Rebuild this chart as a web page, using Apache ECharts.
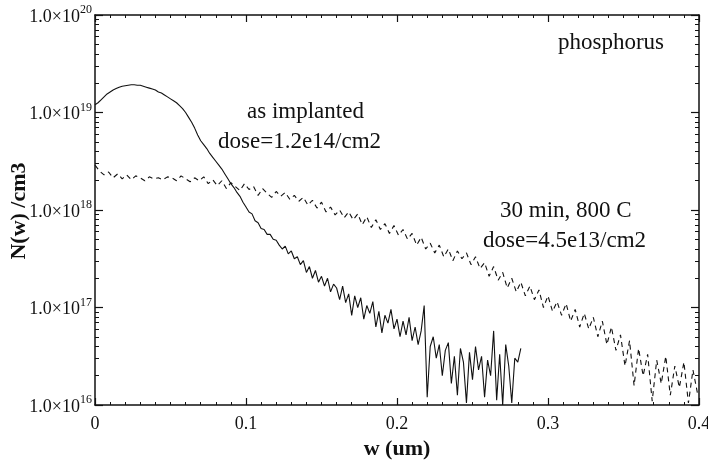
<!DOCTYPE html>
<html>
<head>
<meta charset="utf-8">
<script src="https://cdn.jsdelivr.net/npm/echarts@6/dist/echarts.min.js"></script>
<style>
  html, body { margin: 0; padding: 0; background: #fff; }
  #chart { width: 708px; height: 460px; }
</style>
</head>
<body>
<div id="chart"></div>
<script>
// depth sampling (um) and log10 of concentration
const implantedStep = 0.002
const implantedLogN = [
  19.08, 19.10, 19.13, 19.16, 19.19, 19.21, 19.23, 19.245, 19.26, 19.27, 19.275,
  19.28, 19.285, 19.285, 19.28, 19.28, 19.27, 19.26, 19.25, 19.24, 19.23, 19.21, 19.20, 19.18, 19.16, 19.14,
  19.12, 19.10, 19.07, 19.04, 19.00, 18.95, 18.90, 18.84, 18.77, 18.71,
  18.67, 18.63, 18.58, 18.54, 18.50, 18.46, 18.42, 18.37, 18.32, 18.27,
  18.23, 18.18, 18.14, 18.08, 18.03, 17.98, 17.96, 17.89, 17.87, 17.81,
  17.80, 17.75, 17.75, 17.70, 17.69,
  17.64, 17.60, 17.63, 17.55, 17.58, 17.50, 17.52, 17.44, 17.48, 17.36,
  17.42, 17.30, 17.38, 17.26, 17.32, 17.22, 17.30, 17.16, 17.24, 17.20,
  17.08, 17.22, 17.05, 17.14, 16.92, 17.12, 17.00, 17.10, 16.88, 17.02,
  16.94, 17.06, 16.80, 16.96, 16.74, 16.92, 16.84, 16.98, 16.78, 16.88,
  16.70, 16.86, 16.72, 16.90, 16.66, 16.80, 16.62, 16.76, 17.02, 16.08,
  16.60, 16.70, 16.48, 16.62, 16.30, 16.56, 16.64, 16.22, 16.50, 16.10,
  16.58, 16.44, 16.02, 16.54, 16.26, 16.60, 16.36, 16.50, 16.08, 16.46,
  16.30, 16.76, 16.05, 16.52, 16.00, 16.62, 16.40, 16.02, 16.48, 16.44, 16.58
]

const annealedStep = 0.003
const annealedLogN = [
  18.46, 18.40, 18.36, 18.39, 18.33, 18.37, 18.32, 18.36, 18.31, 18.35,
  18.33, 18.30, 18.34, 18.32, 18.33, 18.31, 18.34, 18.33, 18.30, 18.35,
  18.32, 18.29, 18.33, 18.30, 18.34, 18.27, 18.31, 18.25, 18.30, 18.22,
  18.28, 18.24, 18.20, 18.27, 18.21, 18.24, 18.15, 18.22, 18.17, 18.13,
  18.19, 18.14, 18.18, 18.11, 18.15, 18.09, 18.13, 18.05, 18.10, 18.02,
  18.08, 17.98, 18.03, 17.95, 18.00, 17.92, 17.98, 17.90, 17.96, 17.85,
  17.93, 17.82, 17.90, 17.80, 17.86, 17.76, 17.84, 17.74, 17.80, 17.70,
  17.76, 17.64, 17.72, 17.60, 17.66, 17.56, 17.64, 17.52, 17.60, 17.48,
  17.58, 17.50, 17.56, 17.44, 17.52, 17.40, 17.46, 17.32, 17.42, 17.28,
  17.36, 17.20, 17.30, 17.16, 17.26, 17.12, 17.22, 17.08, 17.18, 17.00,
  17.12, 16.96, 17.06, 16.92, 17.04, 16.86, 16.98, 16.80, 16.94, 16.78,
  16.90, 16.70, 16.86, 16.62, 16.80, 16.56, 16.72, 16.40, 16.66, 16.20,
  16.58, 16.30, 16.52, 16.04, 16.46, 16.22, 16.50, 16.10, 16.40, 16.18,
  16.44, 16.02, 16.36, 16.12
]

const xTicks = [0, 0.1, 0.2, 0.3, 0.4]
const xTickLabels = ['0', '0.1', '0.2', '0.3', '0.4']

const toPoints = (logs, step) => logs.map((v, i) => [+(i * step).toFixed(4), Math.pow(10, v)])

// minor ticks of a log axis, in decades (16..20)
const logMinor = []
for (let d = 16; d < 20; d++) {
  for (let k = 2; k <= 9; k++) logMinor.push(d + Math.log10(k))
}

const serif = '"Liberation Serif", "DejaVu Serif", serif'
const ink = '#111'

const chart = echarts.init(document.getElementById('chart'))

const baseX = {
  type: 'value', min: 0, max: 0.4, interval: 0.1,
  axisLine: { show: true, lineStyle: { color: ink, width: 1.5 } },
  axisTick: { inside: true, length: 7, lineStyle: { color: ink, width: 1.2 } },
  minorTick: { show: true, splitNumber: 10, length: 3, lineStyle: { color: ink, width: 1 } },
  splitLine: { show: false }
}

const option = {
  animation: false,
  backgroundColor: '#fff',
  grid: { left: 95, right: 9, top: 15, bottom: 55, outerBoundsMode: 'none', containLabel: false },
  xAxis: [
    Object.assign({}, baseX, {
      position: 'bottom',
      name: 'w (um)', nameLocation: 'middle', nameGap: 32,
      nameTextStyle: { fontFamily: serif, fontSize: 22, fontWeight: 'bold', color: ink },
      axisLabel: {
        margin: 10, fontFamily: serif, fontSize: 18, color: ink,
        formatter: v => {
          const i = xTicks.findIndex(t => Math.abs(t - v) < 1e-9)
          return i >= 0 ? xTickLabels[i] : ''
        }
      }
    }),
    Object.assign({}, baseX, { position: 'top', axisLabel: { show: false } })
  ],
  yAxis: [
    {
      type: 'log', min: 1e16, max: 1e20, logBase: 10, position: 'left',
      axisLine: { show: true, lineStyle: { color: ink, width: 1.5 } },
      axisTick: { inside: true, length: 8, lineStyle: { color: ink, width: 1.2 } },
      splitLine: { show: false },
      axisLabel: {
        margin: 3,
        formatter: v => '{a|1.0×10}{s|' + Math.round(Math.log10(v)) + '}',
        rich: {
          a: { fontFamily: serif, fontSize: 18, color: ink, lineHeight: 22, verticalAlign: 'bottom' },
          s: { fontFamily: serif, fontSize: 12, color: ink, lineHeight: 22, verticalAlign: 'top' }
        }
      }
    },
    {
      type: 'value', min: 16, max: 20, position: 'left',
      axisLine: { show: false }, axisLabel: { show: false }, splitLine: { show: false },
      axisTick: { show: true, inside: true, length: 4, customValues: logMinor, lineStyle: { color: ink, width: 1 } }
    },
    {
      type: 'log', min: 1e16, max: 1e20, logBase: 10, position: 'right',
      axisLine: { show: true, lineStyle: { color: ink, width: 1.5 } },
      axisTick: { inside: true, length: 8, lineStyle: { color: ink, width: 1.2 } },
      axisLabel: { show: false }, splitLine: { show: false }
    },
    {
      type: 'value', min: 16, max: 20, position: 'right',
      axisLine: { show: false }, axisLabel: { show: false }, splitLine: { show: false },
      axisTick: { show: true, inside: true, length: 4, customValues: logMinor, lineStyle: { color: ink, width: 1 } }
    }
  ],
  series: [
    {
      name: 'as implanted', type: 'line', xAxisIndex: 0, yAxisIndex: 0,
      data: toPoints(implantedLogN, implantedStep),
      showSymbol: false, clip: true,
      lineStyle: { color: ink, width: 1.1 }
    },
    {
      name: '30 min, 800 C', type: 'line', xAxisIndex: 0, yAxisIndex: 0,
      data: toPoints(annealedLogN, annealedStep),
      showSymbol: false, clip: true,
      lineStyle: { color: ink, width: 1.1, type: [5, 4] }
    }
  ],
  graphic: [
    // y axis title, placed by hand (axis name kept getting pushed to the edge)
    {
      type: 'text', x: 19, y: 211, rotation: Math.PI / 2,
      style: { text: 'N(w) /cm3', font: 'bold 22px ' + serif, fill: ink, align: 'center', verticalAlign: 'middle' }
    },
    { type: 'text', left: 558, top: 31, style: { text: 'phosphorus', font: '23px ' + serif, fill: ink } },
    { type: 'text', left: 247, top: 100, style: { text: 'as implanted', font: '23px ' + serif, fill: ink } },
    { type: 'text', left: 218, top: 130, style: { text: 'dose=1.2e14/cm2', font: '23px ' + serif, fill: ink } },
    { type: 'text', left: 500, top: 199, style: { text: '30 min, 800 C', font: '23px ' + serif, fill: ink } },
    { type: 'text', left: 483, top: 229, style: { text: 'dose=4.5e13/cm2', font: '23px ' + serif, fill: ink } }
  ]
}

chart.setOption(option)
</script>
</body>
</html>
